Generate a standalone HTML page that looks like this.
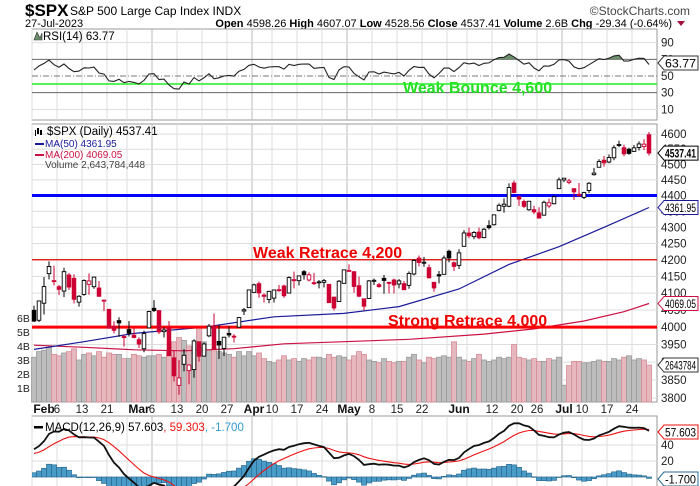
<!DOCTYPE html>
<html><head><meta charset="utf-8"><style>
html,body{margin:0;padding:0;background:#fff;}
svg{display:block;font-family:"Liberation Sans",sans-serif;}
</style></head><body>
<svg id="c" width="700" height="486" viewBox="0 0 700 486">
<g>
<text x="25" y="16" font-size="17" font-weight="bold">$SPX</text>
<text x="70" y="15" font-size="12">S&amp;P 500 Large Cap Index  INDX</text>
<text x="690" y="15" font-size="12" text-anchor="end" fill="#444">©StockCharts.com</text>
<text x="25" y="27" font-size="11">27-Jul-2023</text>
<text x="672" y="27" font-size="11" text-anchor="end"><tspan font-weight="bold">Open</tspan> 4598.26  <tspan font-weight="bold">High</tspan> 4607.07  <tspan font-weight="bold">Low</tspan> 4528.56  <tspan font-weight="bold">Close</tspan> 4537.41  <tspan font-weight="bold">Volume</tspan> 2.6B  <tspan font-weight="bold">Chg</tspan> -29.34 (-0.64%)</text>
<path d="M677,21 L685,21 L681,26 Z" fill="#a0103a"/>
</g>
<g id="grid"></g>
<g id="marks"></g>
</svg>
<script>
const dates=["Jan30","Jan31","Feb1","Feb2","Feb3","Feb6","Feb7","Feb8","Feb9","Feb10","Feb13","Feb14","Feb15","Feb16","Feb17","Feb21","Feb22","Feb23","Feb24","Feb27","Feb28","Mar1","Mar2","Mar3","Mar6","Mar7","Mar8","Mar9","Mar10","Mar13","Mar14","Mar15","Mar16","Mar17","Mar20","Mar21","Mar22","Mar23","Mar24","Mar27","Mar28","Mar29","Mar30","Mar31","Apr3","Apr4","Apr5","Apr6","Apr10","Apr11","Apr12","Apr13","Apr14","Apr17","Apr18","Apr19","Apr20","Apr21","Apr24","Apr25","Apr26","Apr27","Apr28","May1","May2","May3","May4","May5","May8","May9","May10","May11","May12","May15","May16","May17","May18","May19","May22","May23","May24","May25","May26","May30","May31","Jun1","Jun2","Jun5","Jun6","Jun7","Jun8","Jun9","Jun12","Jun13","Jun14","Jun15","Jun16","Jun20","Jun21","Jun22","Jun23","Jun26","Jun27","Jun28","Jun29","Jun30","Jul3","Jul5","Jul6","Jul7","Jul10","Jul11","Jul12","Jul13","Jul14","Jul17","Jul18","Jul19","Jul20","Jul21","Jul24","Jul25","Jul26","Jul27"];
const opens=[4049,4020,4070,4158,4137,4119,4106,4154,4144,4073,4096,4126,4119,4115,4077,4052,4002,4019,3973,3993,3977,3964,3938,3998,4055,4048,3987,3998,3912,3835,3894,3876,3879,3958,3917,3975,4002,3959,3939,3982,3974,4000,4047,4057,4102,4128,4094,4081,4085,4110,4121,4100,4140,4137,4164,4139,4131,4132,4132,4126,4088,4075,4129,4166,4164,4122,4083,4084,4136,4125,4144,4132,4139,4127,4128,4123,4157,4205,4192,4176,4132,4155,4156,4226,4191,4183,4241,4282,4271,4285,4268,4305,4308,4353,4366,4366,4440,4396,4381,4355,4355,4345,4338,4367,4374,4422,4450,4442,4422,4404,4394,4416,4467,4491,4514,4508,4522,4565,4555,4550,4543,4556,4559,4598];
const highs=[4063,4077,4148,4195,4182,4124,4176,4160,4156,4094,4141,4159,4149,4136,4081,4052,4017,4029,3979,4018,3998,3971,3990,4048,4079,4050,4000,4018,3934,3906,3937,3894,3965,3958,3956,4009,4040,4007,3972,4003,3980,4030,4056,4110,4128,4134,4099,4107,4110,4124,4125,4150,4164,4152,4169,4162,4160,4139,4142,4127,4089,4139,4170,4186,4165,4149,4083,4139,4143,4130,4154,4133,4143,4142,4136,4165,4202,4213,4209,4186,4133,4166,4213,4231,4195,4232,4291,4299,4288,4299,4298,4322,4340,4375,4391,4439,4448,4400,4387,4382,4367,4363,4384,4390,4399,4458,4456,4454,4423,4440,4412,4443,4489,4517,4528,4533,4563,4578,4565,4555,4564,4576,4583,4607];
const lows=[4015,4015,4037,4141,4123,4094,4088,4109,4069,4060,4092,4095,4113,4089,4047,3995,3982,3972,3944,3973,3968,3940,3928,3998,4044,3980,3970,3937,3846,3809,3874,3838,3856,3901,3916,3971,3936,3909,3917,3970,3956,3999,4035,4056,4102,4086,4072,4070,4072,4104,4086,4100,4114,4123,4140,4135,4124,4114,4117,4072,4049,4075,4128,4164,4101,4088,4049,4084,4124,4116,4098,4099,4099,4114,4109,4113,4153,4180,4179,4143,4104,4129,4155,4192,4166,4172,4241,4266,4263,4263,4266,4293,4305,4350,4346,4363,4407,4367,4360,4352,4341,4328,4336,4360,4372,4422,4443,4436,4386,4397,4389,4408,4464,4491,4493,4504,4514,4557,4527,4532,4541,4546,4547,4529];
const closes=[4017.77,4076.60,4119.21,4179.76,4136.48,4111.08,4164.00,4117.86,4081.50,4090.46,4137.29,4136.13,4147.60,4090.41,4079.09,3997.34,3991.05,4012.32,3970.04,3982.24,3970.15,3951.39,3981.35,4045.64,4048.42,3986.37,3992.01,3918.32,3861.59,3855.76,3919.29,3891.93,3960.28,3916.64,3951.57,4002.87,3936.97,3948.72,3970.99,3977.53,3971.27,4027.81,4050.83,4109.31,4124.51,4100.60,4090.38,4105.02,4109.11,4108.94,4091.95,4146.22,4137.64,4151.32,4154.87,4154.52,4129.79,4133.52,4137.04,4071.63,4055.99,4135.35,4169.48,4167.87,4119.58,4090.75,4061.22,4136.25,4138.12,4119.17,4137.64,4130.62,4124.08,4136.28,4109.90,4158.77,4198.05,4191.98,4192.63,4145.58,4115.24,4151.28,4205.45,4205.52,4179.83,4221.02,4282.37,4273.79,4283.85,4267.52,4293.93,4298.86,4338.93,4369.01,4372.59,4425.84,4409.59,4388.71,4365.69,4381.89,4348.33,4328.82,4378.41,4376.86,4396.44,4450.38,4455.59,4446.82,4411.59,4398.95,4409.53,4439.26,4472.16,4510.04,4505.42,4522.79,4554.98,4565.72,4534.87,4536.34,4554.64,4567.46,4566.75,4537.41];
const volumesB=[3.2,3.6,3.7,3.9,3.4,3.3,3.5,3.6,3.8,3.0,3.4,3.5,3.3,3.6,3.2,3.5,3.4,3.4,3.1,3.1,3.4,3.3,3.2,3.3,3.3,3.4,3.2,3.6,4.3,4.6,4.4,4.0,3.9,5.4,4.3,3.7,3.8,3.6,3.5,3.4,3.2,3.6,3.3,3.6,3.3,3.5,3.1,2.9,2.8,3.0,3.3,3.0,3.1,2.9,3.1,3.0,3.2,3.2,3.1,3.4,3.2,3.3,3.2,3.0,3.3,3.6,3.4,3.0,2.9,2.8,3.1,2.9,2.8,2.9,2.9,3.2,3.4,3.0,2.8,3.2,3.1,3.2,3.3,3.2,4.3,3.2,3.0,2.9,3.1,3.4,3.0,2.9,3.0,3.2,3.1,3.2,4.1,3.2,3.1,3.0,3.1,2.9,2.9,3.1,3.0,3.2,1.2,2.6,2.9,2.9,2.8,2.8,2.9,3.0,2.9,2.9,3.1,3.0,3.2,3.3,3.0,3.1,3.0,2.64];
const ma50Idx=[0,10,20,34,48,62,73,85,95,105,114,123];
const ma50Val=[3936,3958,3982,4000,4030,4040,4060,4112,4186,4240,4300,4362];
const ma200Idx=[0,10,20,30,40,50,62,75,90,100,110,118,123];
const ma200Val=[3948,3942,3935,3932,3938,3952,3958,3965,3980,3995,4018,4045,4069];
const tickIdx=[5,10,15,24,29,34,39,48,53,58,68,73,78,92,97,101,110,115,120];
const tickLabels=["6","13","21","6","13","20","27","10","17","24","8","15","22","12","20","26","10","17","24"];
const monthIdx=[2,21,44,63,85,106];
const monthLabels=["Feb","Mar","Apr","May","Jun","Jul"];
const weekIdx=[0,5,10,15,19,24,29,34,39,44,48,53,58,63,68,73,78,83,87,92,97,101,106,110,115,120];
const priceTicks=[4600,4550,4500,4450,4400,4350,4300,4250,4200,4150,4100,4050,4000,3950,3900,3850,3800];
const rsiTicks=[90,70,50,30,10];
const volTicks=[1,2,3,4,5,6];
const macdTicks=[40,20];
const rsiSeed=[20,15];
const macdSeed=[3990,3955,28];

const NS="http://www.w3.org/2000/svg";
const L=32,R=657;
const X=k=>34+5*k;
const PY=p=>398-1381*Math.log(p/3800);
const VY=v=>402-14*v;
const RY=v=>76-(v-50)*0.833;
const MY=v=>477-v*0.8;
const grid=document.getElementById('grid'),marks=document.getElementById('marks');
function mk(tag,attrs,parent,txt){const e=document.createElementNS(NS,tag);for(const a in attrs)e.setAttribute(a,attrs[a]);if(txt!=null)e.textContent=txt;(parent||marks).appendChild(e);return e;}

const panels=[[29,120,'rsi-panel'],[124,402,'price-panel'],[416,490,'macd-panel']];
panels.forEach(p=>{const r=mk('rect',{x:L,y:p[0],width:R-L,height:p[1]-p[0],fill:'#fff',stroke:'#999'},grid);

});
weekIdx.forEach(k=>{const isM=[44,63,106,24].includes(k);
panels.forEach(p=>{const l=mk('line',{x1:X(k)-2,x2:X(k)-2,y1:p[0],y2:p[1],stroke:isM?'#bbb':'#ddd'},grid);

});});
priceTicks.forEach(p=>{const y=PY(p);
const l=mk('line',{x1:L,x2:R,y1:y,y2:y,stroke:'#ddd'},grid);


const t=mk('text',{x:661,y:y+4,'font-size':11.5,fill:'#222'},grid,String(p));

});
volTicks.forEach(v=>{const t=mk('text',{x:17,y:VY(v)+4,'font-size':10.5,fill:'#222'},grid,v+'B');

});
[90,10].forEach(v=>{const l=mk('line',{x1:L,x2:R,y1:RY(v),y2:RY(v),stroke:'#ddd'},grid);

});
[70,30].forEach(v=>{const l=mk('line',{x1:L,x2:R,y1:RY(v),y2:RY(v),stroke:'#666'},grid);

});
{const l=mk('line',{x1:L,x2:R,y1:RY(50),y2:RY(50),stroke:'#777','stroke-dasharray':'6,2,1,2'},grid);

}
rsiTicks.forEach(v=>{const t=mk('text',{x:661,y:RY(v)+4,'font-size':11.5,fill:'#222'},grid,String(v));

});
macdTicks.forEach(v=>{const l=mk('line',{x1:L,x2:R,y1:MY(v),y2:MY(v),stroke:'#ddd'},grid);


const t=mk('text',{x:661,y:MY(v)+4,'font-size':11.5,fill:'#222'},grid,String(v));

});
tickIdx.forEach((k,i)=>{const t=mk('text',{x:X(k)-2,y:413,'font-size':11.5,'text-anchor':'middle',fill:'#222'},grid,tickLabels[i]);

});
monthIdx.forEach((k,i)=>{const t=mk('text',{x:X(k),y:413,'font-size':12,'font-weight':'bold','text-anchor':'middle',fill:'#111'},grid,monthLabels[i]);

});

closes.forEach((c,k)=>{const down=k>0&&c<closes[k-1];
const r=mk('rect',{x:X(k)-2.5,y:VY(volumesB[k]),width:5,height:402-VY(volumesB[k]),fill:down?'#e6b8bd':'#bdbdbd',stroke:down?'#d58c96':'#9a9a9a','stroke-width':0.8});

});
function poly(idx,vals,color,name,w){const pts=idx.map((k,i)=>X(k)+','+PY(vals[i]).toFixed(1)).join(' ');
const p=mk('polyline',{points:pts,fill:'none',stroke:color,'stroke-width':w});

}
poly(ma200Idx,ma200Val,'#cc1144','ma200-line',1.2);
poly(ma50Idx,ma50Val,'#1a1a99','ma50-line',1.2);
[[4400,3,'#0000ff','weak-bounce-support-line'],[4200,1.2,'#dd0000','weak-retrace-line'],[4000,3,'#ff0000','strong-retrace-line']].forEach(h=>{
const l=mk('line',{x1:L,x2:R,y1:PY(h[0]),y2:PY(h[0]),stroke:h[2],'stroke-width':h[1]});

});
closes.forEach((c,k)=>{const o=opens[k],up=k===0||c>=closes[k-1];const col=up?'#000':'#cc0033';const hollow=c>o;
const w=mk('line',{x1:X(k),x2:X(k),y1:PY(highs[k]),y2:PY(lows[k]),stroke:col,'stroke-width':1});


const t=Math.min(PY(o),PY(c)),b=Math.max(PY(o),PY(c));
const r=mk('rect',{x:X(k)-1.8,y:t,width:3.6,height:Math.max(1,b-t),fill:hollow?'#fff':col,stroke:col,'stroke-width':0.9});

});
[[253,258,'Weak Retrace 4,200','#ee0000','weak-retrace-annotation'],[388,326,'Strong Retrace 4,000','#ee0000','strong-retrace-annotation'],[403,93,'Weak Bounce 4,600','#22dd22','weak-bounce-annotation']].forEach(a=>{
const t=mk('text',{x:a[0],y:a[1],'font-size':16,'font-weight':'bold',fill:a[3]},marks,a[2]);

});
{const l=mk('line',{x1:L,x2:R,y1:84,y2:84,stroke:'#22ee22','stroke-width':1.5});

}

const rsi=[];let ag=rsiSeed[0],al=rsiSeed[1];rsi.push(100-100/(1+ag/al));
for(let k=1;k<closes.length;k++){const ch=closes[k]-closes[k-1];ag=(ag*13+Math.max(ch,0))/14;al=(al*13+Math.max(-ch,0))/14;rsi.push(100-100/(1+ag/al));}
const rpts=rsi.map((v,k)=>X(k)+','+RY(v).toFixed(1));
const cp=mk('clipPath',{id:'ob'},marks);
mk('rect',{x:L,y:29,width:R-L,height:RY(70)-29},cp);
{const f=mk('polygon',{points:rpts.join(' ')+' '+X(rsi.length-1)+','+RY(70)+' '+X(0)+','+RY(70),fill:'#6b8f6b','clip-path':'url(#ob)'});

}
{const p=mk('polyline',{points:rpts.join(' '),fill:'none',stroke:'#222','stroke-width':1.1});

}

let e12=macdSeed[0],e26=macdSeed[1],sg=macdSeed[2];const macd=[],sig=[];
closes.forEach(c=>{e12+=(c-e12)*2/13;e26+=(c-e26)*2/27;const m=e12-e26;sg+=(m-sg)*2/10;macd.push(m);sig.push(sg);});
const mcp=mk('clipPath',{id:'mc'},marks);
mk('rect',{x:L,y:417,width:R-L,height:80},mcp);
const mg=mk('g',{'clip-path':'url(#mc)'});


macd.forEach((m,k)=>{const h=m-sig[k];const y0=MY(0),y1=MY(h);
const r=mk('rect',{x:X(k)-2.5,y:Math.min(y0,y1),width:5,height:Math.max(0.5,Math.abs(y1-y0)),fill:'#4a9cc8',stroke:'#2a6a90','stroke-width':0.7},mg);

});
{const p=mk('polyline',{points:sig.map((v,k)=>X(k)+','+MY(v).toFixed(1)).join(' '),fill:'none',stroke:'#ee1111','stroke-width':1.1},mg);

}
{const p=mk('polyline',{points:macd.map((v,k)=>X(k)+','+MY(v).toFixed(1)).join(' '),fill:'none',stroke:'#111','stroke-width':1.8},mg);

}

function tag(y,txt,border,bold,name){const g=mk('g',{});


mk('path',{d:`M658,${y} L664,${y-7} L698,${y-7} L698,${y+7} L664,${y+7} Z`,fill:'#fff',stroke:border,'stroke-width':1},g);
mk('text',{x:665,y:y+4.5,'font-size':bold?12:11.5,'font-weight':bold?'bold':'normal',fill:'#000',textLength:31,lengthAdjust:'spacingAndGlyphs'},g,txt);}
tag(63,'63.77','#333',false,'rsi-value-tag');
tag(PY(4537.41),'4537.41','#000',true,'close-value-tag');
tag(PY(4361.95),'4361.95','#1a1a99',false,'ma50-value-tag');
tag(PY(4069.05),'4069.05','#cc1144',false,'ma200-value-tag');
tag(VY(2.64),'2643784','#333',false,'volume-value-tag');
tag(432,'57.603','#ee1111',false,'macd-value-tag');
tag(479,'-1.700','#2a6a90',false,'macd-hist-value-tag');

const lg=[[33,40,'RSI(14) 63.77','#000','rsi-legend'],[47,135,'$SPX (Daily) 4537.41','#000','price-legend'],[45,147,'MA(50) 4361.95','#1a1a99','ma50-legend'],[45,158,'MA(200) 4069.05','#cc1144','ma200-legend'],[45,168,'Volume 2,643,784,448','#444','volume-legend']];
lg.forEach(a=>{const t=mk('text',{x:a[0]+(a[4]==='rsi-legend'?10:0),y:a[1],'font-size':a[4]==='price-legend'||a[4]==='rsi-legend'?11.5:10,fill:a[3]},marks,a[2]);

});
mk('rect',{x:35,y:143,width:9,height:2,fill:'#1a1a99'});
mk('rect',{x:35,y:154,width:9,height:2,fill:'#cc1144'});
mk('path',{d:'M34,40 L37,32 L40,38 L42,33 L42,40 Z',fill:'#6b8f6b',stroke:'#333','stroke-width':0.6});
mk('path',{d:'M35,130 h1 v6 h-1z M37,128 h2 v6 h-2z M40,130 h2 v5 h-2z',fill:'#000'});
{const t=mk('text',{x:45,y:431,'font-size':11.5,fill:'#000'},marks);


t.innerHTML='<tspan>MACD(12,26,9) 57.603</tspan><tspan fill="#ee1111">, 59.303</tspan><tspan fill="#3399cc">, -1.700</tspan>';}
mk('rect',{x:34,y:426,width:9,height:2.5,fill:'#000'});
</script>
</body></html>
